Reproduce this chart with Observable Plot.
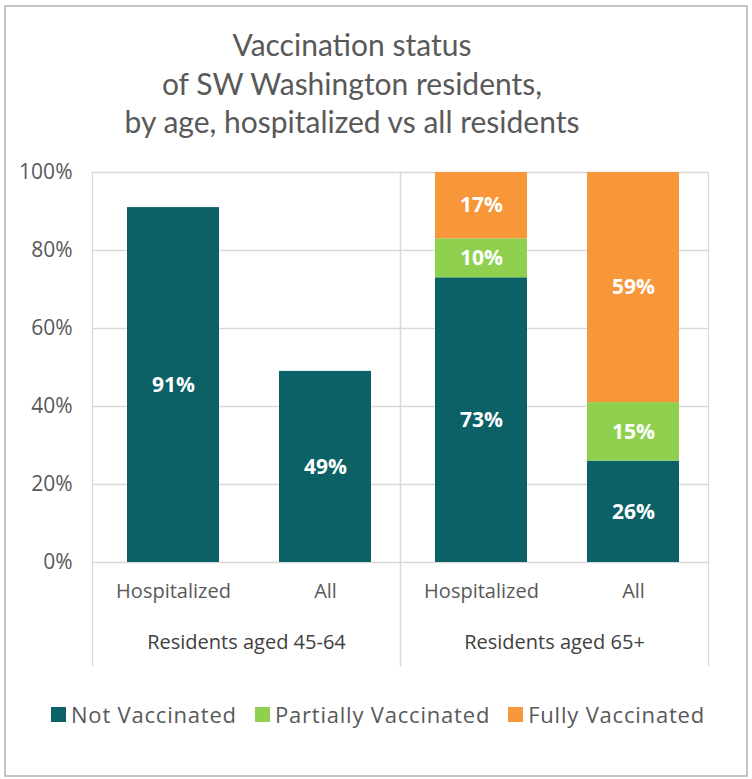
<!DOCTYPE html>
<html>
<head>
<meta charset="utf-8">
<script src="https://cdn.jsdelivr.net/npm/d3@7"></script>
<script src="https://cdn.jsdelivr.net/npm/@observablehq/plot@0.6"></script>
<style>
  html, body { margin: 0; padding: 0; background: #fff; }
  #page { position: relative; width: 752px; height: 779px; overflow: hidden; }
  #border { position: absolute; left: 4px; top: 5px; width: 744px; height: 772px; box-sizing: border-box; border: 2px solid #c6c6c6; }
  #title { position: absolute; left: 0; top: 25px; width: 704px; text-align: center; font-family: Lato, "Open Sans", sans-serif; font-size: 30px; line-height: 38.5px; color: #595959; }
  #chart { position: absolute; left: 0; top: 150px; }
  #legend { position: absolute; left: 0; top: 699px; width: 752px; display: flex; justify-content: center; align-items: center; font-family: "Open Sans", sans-serif; font-size: 22px; letter-spacing: 0.8px; color: #595959; padding-left: 4px; box-sizing: border-box; }
  .item { display: flex; align-items: center; margin: 0 9px; }
  .sw { width: 15px; height: 15px; margin-right: 5px; }
</style>
</head>
<body>
<div id="page">
  <div id="border"></div>
  <div id="title">Vaccination status<br>of SW Washington residents,<br>by age, hospitalized vs all residents</div>
  <div id="chart"></div>
  <div id="legend"></div>
</div>
<script>
const ageGroups = ["Residents aged 45-64", "Residents aged 65+"];
const populations = ["Hospitalized", "All"];
const statuses = ["Not Vaccinated", "Partially Vaccinated", "Fully Vaccinated"];
const statusColors = ["#0b6165", "#8fd14f", "#f8963a"];
// bars in order: 45-64 Hospitalized, 45-64 All, 65+ Hospitalized, 65+ All
const barAge = ["Residents aged 45-64", "Residents aged 45-64", "Residents aged 65+", "Residents aged 65+"];
const barPop = ["Hospitalized", "All", "Hospitalized", "All"];
const notVaccinated = [91, 49, 73, 26];
const partiallyVaccinated = [null, null, 10, 15];
const fullyVaccinated = [null, null, 17, 59];
const yTicks = [0, 20, 40, 60, 80, 100];

const series = [notVaccinated, partiallyVaccinated, fullyVaccinated];
const rows = [];
barAge.forEach((age, i) => {
  statuses.forEach((s, k) => {
    const v = series[k][i];
    if (v != null) rows.push({age, pop: barPop[i], status: s, value: v});
  });
});

const chart = Plot.plot({
  width: 752,
  height: 530,
  marginTop: 22,
  marginBottom: 15,
  marginLeft: 92,
  marginRight: 44,
  style: {fontFamily: "'Open Sans', sans-serif", color: "#595959", background: "transparent", overflow: "visible"},
  fx: {domain: ageGroups, padding: 0, label: null},
  x: {domain: populations, paddingInner: 0.395, paddingOuter: 0.21, align: 0.54, label: null},
  y: {domain: [0, 100], range: [412, 22], label: null},
  color: {domain: statuses, range: statusColors},
  marks: [
    Plot.gridY(yTicks, {stroke: "#d9d9d9", strokeOpacity: 1, strokeWidth: 1.3}),
    Plot.frame({anchor: "left", stroke: "#d9d9d9", strokeWidth: 1.3}),
    Plot.frame({anchor: "right", stroke: "#d9d9d9", strokeWidth: 1.3}),
    Plot.barY(rows, {fx: "age", x: "pop", y: "value", fill: "status"}),
    Plot.text(rows, Plot.stackY({fx: "age", x: "pop", y: "value", text: d => d.value + "%", fill: "white", fontWeight: "bold", fontSize: 21, letterSpacing: "0.9px"})),
    Plot.axisY(yTicks, {anchor: "left", tickSize: 0, tickPadding: 20, tickFormat: d => d + "%", fontSize: 21, label: null}),
    Plot.axisX({anchor: "bottom", tickSize: 0, tickPadding: 0, dy: -74, lineAnchor: "middle", fontSize: 20, letterSpacing: "0.6px", label: null}),
    Plot.axisFx({anchor: "bottom", tickSize: 0, tickPadding: 0, dy: -23, lineAnchor: "middle", fontSize: 20, fill: "#404040", letterSpacing: "0.5px", label: null})
  ]
});
document.getElementById("chart").appendChild(chart);

const colorScale = chart.scale("color");
const legend = document.getElementById("legend");
colorScale.domain.forEach((name, i) => {
  const item = document.createElement("div");
  item.className = "item";
  const sw = document.createElement("div");
  sw.className = "sw";
  sw.style.background = colorScale.range[i];
  const label = document.createElement("span");
  label.textContent = name;
  item.appendChild(sw);
  item.appendChild(label);
  legend.appendChild(item);
});
</script>
</body>
</html>
